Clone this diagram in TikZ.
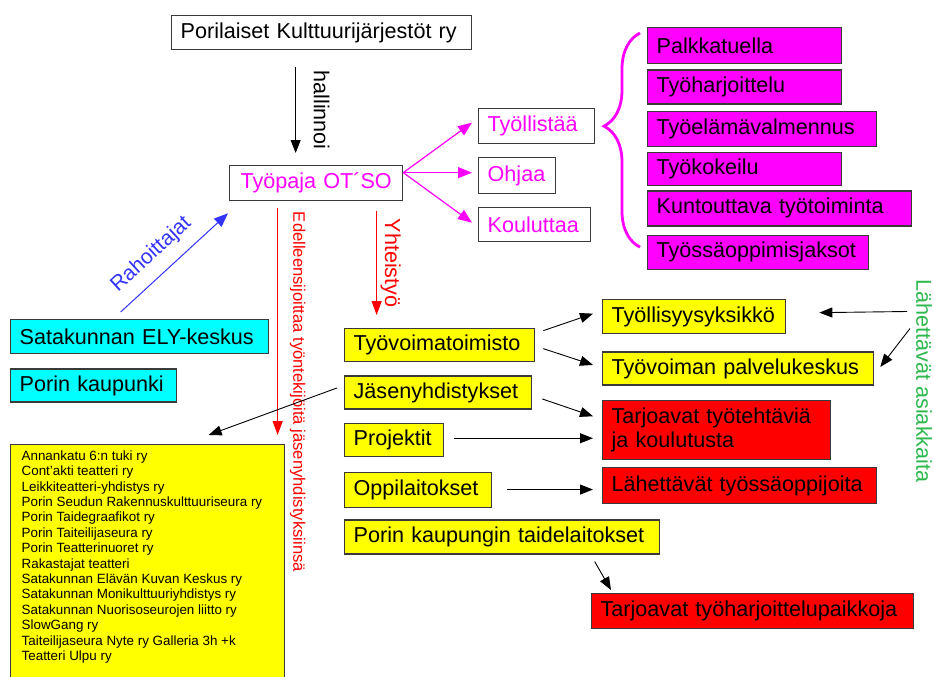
\documentclass[tikz,border=0pt]{standalone}
\usepackage{fontspec}
\setmainfont{Liberation Sans}
\usetikzlibrary{arrows.meta,positioning,calc,decorations.pathreplacing}
\definecolor{Mag}{HTML}{FF00FF}
\definecolor{Yel}{HTML}{FFFF00}
\definecolor{Cya}{HTML}{00FFFF}
\definecolor{Rd}{HTML}{FF0000}
\definecolor{Blu}{HTML}{3333FF}
\definecolor{Grn}{HTML}{2DB84D}
\definecolor{Edge}{HTML}{3A3A3A}
\newcommand{\boxfont}{\fontsize{21.6}{24}\selectfont\hyphenpenalty=10000\exhyphenpenalty=10000\relax}
\newcommand{\listfont}{\fontsize{13.4}{15.4}\selectfont}
\tikzset{
  bx/.style={draw=Edge, line width=1.3pt, anchor=north west, inner xsep=9pt, inner ysep=0pt,
             minimum height=34pt, align=left, font=\boxfont},
  wbox/.style={bx, fill=white},
  mbox/.style={bx, fill=Mag},
  ybox/.style={bx, fill=Yel},
  cbox/.style={bx, fill=Cya},
  rbox/.style={bx, fill=Rd},
  lbox/.style={draw=Edge, line width=1.3pt, fill=Yel, anchor=north west, inner xsep=11pt, inner ysep=6pt},
  arr/.style={-{Triangle[length=13pt,width=10pt]}, line width=0.9pt, black},
  marr/.style={-{Triangle[length=14pt,width=11pt]}, line width=1.2pt, Mag},
  rarr/.style={-{Triangle[length=14pt,width=10pt]}, line width=1.2pt, Rd},
  barr/.style={-{Triangle[length=14pt,width=11pt]}, line width=1pt, Blu},
  lbl/.style={inner sep=0pt, font=\boxfont}
}
\begin{document}
\begin{tikzpicture}[x=1pt, y=-1pt]
\useasboundingbox (0,0) rectangle (934,677);
% top part
\node[wbox, text width=282pt] (pkj) at (171,15) {Porilaiset Kulttuurijärjestöt ry};
\node[wbox, text width=155pt, align=center, text=Mag, minimum height=35pt] (otso) at (229,165) {Työpaja OT´SO};
\node[wbox, text=Mag, text width=98pt, minimum height=35pt] (tyol) at (478,108) {Työllistää};
\node[wbox, text=Mag, text width=59pt, minimum height=36pt] (ohj) at (478,157) {Ohjaa};
\node[wbox, text=Mag, text width=94pt] (koul) at (478,207) {Kouluttaa};
% magenta column
\node[mbox, text width=176pt, minimum height=36pt] (palk) at (647,27) {Palkkatuella};
\node[mbox, text width=176pt, below=5pt of palk.south west, anchor=north west] (harj) {Työharjoittelu};
\node[mbox, text width=211pt, minimum height=35pt, below=6pt of harj.south west, anchor=north west] (valm) {Työelämävalmennus};
\node[mbox, text width=176pt, minimum height=33pt, below=5pt of valm.south west, anchor=north west] (kok) {Työkokeilu};
\node[mbox, text width=246pt, minimum height=35pt, below=4pt of kok.south west, anchor=north west] (kunt) {Kuntouttava työtoiminta};
\node[mbox, text width=203pt, below=8pt of kunt.south west, anchor=north west] (jaks) {Työssäoppimisjaksot};
% funders and member list
\node[cbox, text width=240pt] (ely) at (10,319) {Satakunnan ELY-keskus};
\node[cbox, text width=148pt, minimum height=33pt, below=14pt of ely.south west, anchor=north west] (pori) {Porin kaupunki};
\node[lbox] (yhd) at (10,444) {\parbox[t][223pt][t]{252pt}{\listfont
  Annankatu 6:n tuki ry\\
  Cont’akti teatteri ry\\
  Leikkiteatteri-yhdistys ry\\
  Porin Seudun Rakennuskulttuuriseura ry\\
  Porin Taidegraafikot ry\\
  Porin Taiteilijaseura ry\\
  Porin Teatterinuoret ry\\
  Rakastajat teatteri\\
  Satakunnan Elävän Kuvan Keskus ry\\
  Satakunnan Monikulttuuriyhdistys ry\\
  Satakunnan Nuorisoseurojen liitto ry\\
  SlowGang ry\\
  Taiteilijaseura Nyte ry Galleria 3h +k\\
  Teatteri Ulpu ry}};
% partners
\node[ybox, text width=172pt, minimum height=33pt] (tvt) at (344,328) {Työvoimatoimisto};
\node[ybox, text width=169pt, minimum height=33pt, below=13pt of tvt.south west, anchor=north west] (jas) {Jäsenyhdistykset};
\node[ybox, text width=81pt, minimum height=33pt, below=13pt of jas.south west, anchor=north west] (proj) {Projektit};
\node[ybox, text width=129pt, minimum height=35pt, below=15pt of proj.south west, anchor=north west] (opp) {Oppilaitokset};
\node[ybox, text width=297pt, below=11pt of opp.south west, anchor=north west] (taide) {Porin kaupungin taidelaitokset};
\node[ybox, text width=165pt] (tys) at (602,299) {Työllisyysyksikkö};
\node[ybox, text width=253pt, minimum height=33pt, below=17pt of tys.south west, anchor=north west] (tpk) {Työvoiman palvelukeskus};
\node[rbox, text width=210pt, minimum height=59pt, below=14pt of tpk.south west, anchor=north west] (tarj) {Tarjoavat työtehtäviä\\ja koulutusta};
\node[rbox, text width=256pt, minimum height=36pt, below=7pt of tarj.south west, anchor=north west] (lahe) {Lähettävät työssäoppijoita};
\node[rbox, text width=304pt, minimum height=35pt] (harjp) at (591,593) {Tarjoavat työharjoittelupaikkoja};
\node[lbl, text=Grn, rotate=-90] (asiak) at (924,381) {Lähettävät asiakkaita};
% connectors
\draw[arr] ($(pkj.south)+(-26,17)$) -- ($(otso.north)+(-20.5,-12)$)
  node[lbl, midway, xshift=26pt, rotate=-90] {hallinnoi};
\draw[barr] ($(ely.north)+(-19,-7)$) -- ($(otso.south west)+(-1,12)$)
  node[lbl, pos=0.42, sloped, above=11pt, text=Blu, font=\fontsize{21}{24}\selectfont] {Rahoittajat};
\draw[rarr] ($(otso.south)+(-38.5,7)$) -- ($(yhd.north)+(130,-9)$)
  node[lbl, pos=0.81, xshift=20pt, rotate=-90, text=Rd, font=\fontsize{16.6}{18}\selectfont] {Edelleensijoittaa työntekijöitä jäsenyhdistyksiinsä};
\draw[rarr] ($(otso.south)+(60.5,10)$) -- ($(tvt.north)+(-63,-13)$)
  node[lbl, midway, xshift=14pt, rotate=-90, text=Rd] {Yhteistyö};
\coordinate (fan) at ($(otso.east)+(0,-10.5)$);
\draw[marr] (fan) -- ($(tyol.west)+(-6,-3.5)$);
\draw[marr] (fan) -- ($(ohj.west)+(-6,-3)$);
\draw[marr] (fan) -- ($(koul.west)+(-6,-2)$);
\draw[Mag, line width=2.8pt, decorate, decoration={brace, amplitude=36pt, aspect=0.565}]
  ($(jaks.west)+(-7,-5)$) -- ($(palk.north west)+(-7,6)$);
\draw[arr] ($(tvt.east)+(8,-14.5)$) -- ($(tys.west)+(-9,-3)$);
\draw[arr] ($(tvt.east)+(8,3.5)$) -- ($(tpk.west)+(-9,-3.5)$);
\draw[arr] ($(jas.east)+(10,6.5)$) -- ($(tarj.west)+(-9,-13.5)$);
\draw[arr] ($(proj.east)+(10,-1.5)$) -- ($(tarj.west)+(-9,8.5)$);
\draw[arr] ($(opp.east)+(15,-0.5)$) -- ($(lahe.west)+(-9,4)$);
\draw[arr] ($(jas.west)+(-7,-4.5)$) -- ($(yhd.north)+(61,-9)$);
\draw[arr] ($(taide.south)+(92.5,7)$) -- ($(harjp.north west)+(20,-3)$);
\draw[arr] ($(asiak.center)+(-17,-69.5)$) -- ($(tys.east)+(33,-4)$);
\draw[arr] ($(asiak.center)+(-14,-52.5)$) -- ($(tpk.east)+(6,-1.5)$);
\end{tikzpicture}
\end{document}
